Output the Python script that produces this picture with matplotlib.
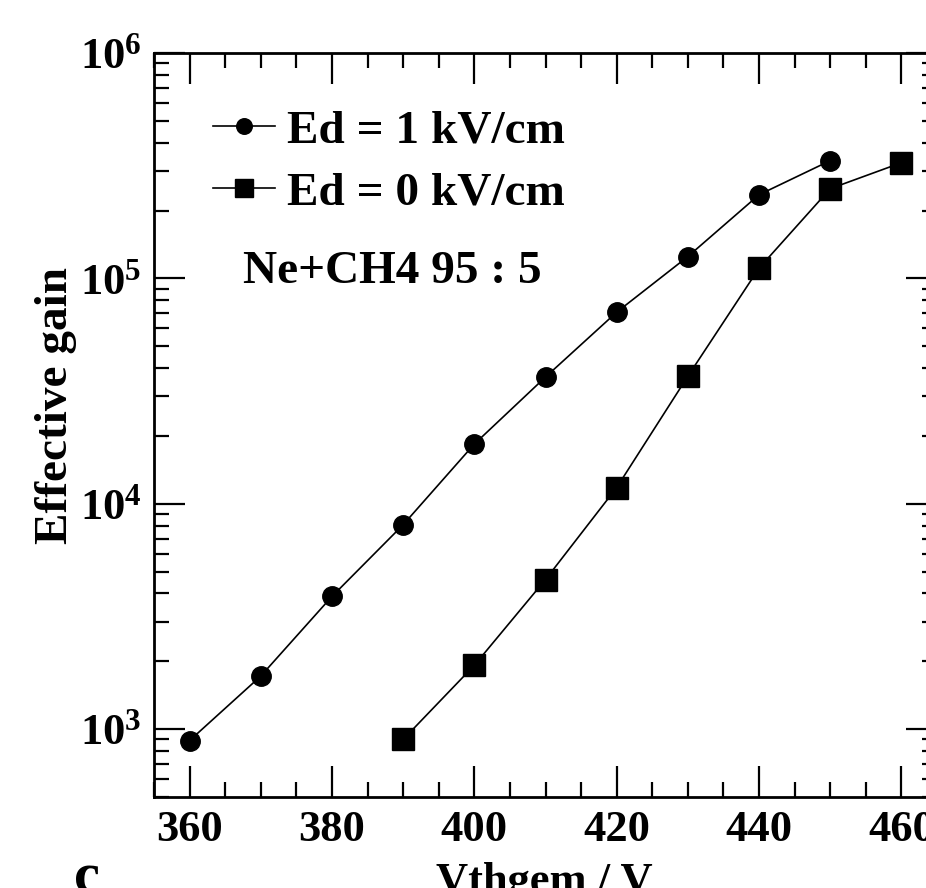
import matplotlib
matplotlib.use("Agg")
import matplotlib.pyplot as plt
from matplotlib.ticker import LogLocator, FixedLocator, MultipleLocator, NullFormatter

plt.rcParams['font.family'] = ['Liberation Serif', 'DejaVu Serif']
plt.rcParams['font.weight'] = 'bold'
plt.rcParams['mathtext.fontset'] = 'custom'
plt.rcParams['mathtext.rm'] = 'Liberation Serif:bold'
plt.rcParams['mathtext.bf'] = 'Liberation Serif:bold'
plt.rcParams['mathtext.it'] = 'Liberation Serif:bold'

# Data
v_ed1 = [360, 370, 380, 390, 400, 410, 420, 430, 440, 450]
gain_ed1 = [890, 1720, 3880, 8070, 18400, 36500, 70800, 125000, 235000, 333000]
v_ed0 = [390, 400, 410, 420, 430, 440, 450, 460]
gain_ed0 = [900, 1920, 4610, 11800, 36800, 111000, 250000, 326000]
label_ed1 = "Ed = 1 kV/cm"
label_ed0 = "Ed = 0 kV/cm"
annotation = "Ne+CH4 95 : 5"
xlabel = "Vthgem / V"
ylabel = "Effective gain"
xticks = [360, 380, 400, 420, 440, 460]

W, H = 926, 888
fig = plt.figure(figsize=(W / 100, H / 100), dpi=100)
ax = fig.add_axes([154 / W, 1 - 797 / H, (937 - 154) / W, (797 - 53) / H])

ax.plot(v_ed1, gain_ed1, '-', color='black', lw=1.2, marker='o', ms=14,
        markerfacecolor='black', markeredgecolor='black', label=label_ed1)
ax.plot(v_ed0, gain_ed0, '-', color='black', lw=1.2, marker='s', ms=16,
        markerfacecolor='black', markeredgecolor='black', label=label_ed0)

ax.set_yscale('log')
ax.set_xlim(355, 465)
ax.set_ylim(500, 1e6)

ax.xaxis.set_major_locator(FixedLocator(xticks))
ax.xaxis.set_minor_locator(MultipleLocator(5))
ax.yaxis.set_minor_locator(LogLocator(base=10, subs=range(2, 10), numticks=50))
ax.yaxis.set_minor_formatter(NullFormatter())
ax.set_yticks([1e3, 1e4, 1e5, 1e6])
ax.set_yticklabels([r'$\mathbf{10^{3}}$', r'$\mathbf{10^{4}}$', r'$\mathbf{10^{5}}$', r'$\mathbf{10^{6}}$'])

ax.tick_params(which='both', direction='in', top=True, right=True, width=1.6, color='black')
ax.tick_params(which='major', length=22, labelsize=32, pad=9)
ax.tick_params(which='minor', length=11)
for s in ax.spines.values():
    s.set_linewidth(2)

for lab in ax.get_xticklabels():
    lab.set_fontweight('bold')

ax.set_xlabel(xlabel, fontsize=32, fontweight='bold')
ax.xaxis.set_label_coords((544 - 154) / 783, -(893 - 797) / 744, transform=ax.transAxes)
ax.xaxis.label.set_va('baseline')
ax.set_ylabel(ylabel, fontsize=34, fontweight='bold')
ax.yaxis.set_label_coords((77 - 154) / 783, (797 - 406) / 744)

leg = ax.legend(loc='upper left', bbox_to_anchor=((213 - 154) / 783, (797 - 109) / 744),
                frameon=False, fontsize=34, handlelength=1.31, handletextpad=0.25,
                labelspacing=0.42, borderaxespad=0, borderpad=0, markerscale=0.8)
for t in leg.get_texts():
    t.set_fontweight('bold')

ax.text((243 - 154) / 783, (797 - 272) / 744, annotation, transform=ax.transAxes,
        fontsize=34, fontweight='bold', va='center', ha='left')

fig.text(74 / W, 1 - 892 / H, "c", fontsize=42, fontweight='bold', va='baseline', ha='left')

fig.savefig("out.png", dpi=100)
